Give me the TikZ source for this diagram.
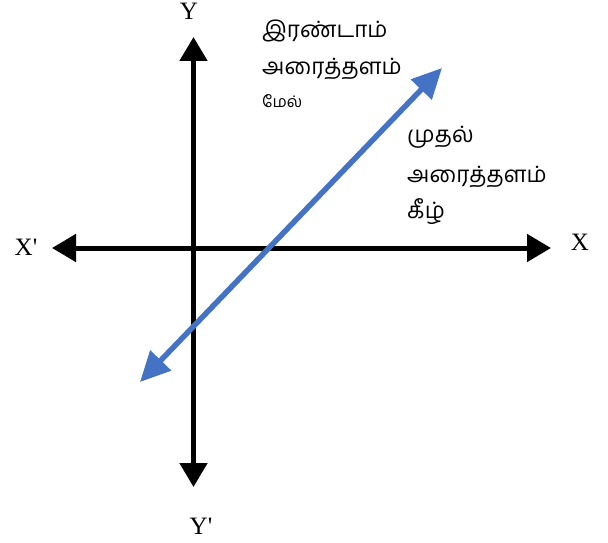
\documentclass[tikz,border=0pt]{standalone}
\usepackage{fontspec}
\setmainfont{Liberation Serif}
\newfontfamily\tamil[Script=Tamil]{Hind Madurai}
\usetikzlibrary{arrows.meta}
\definecolor{axisblue}{HTML}{4472C4}
\begin{document}
\begin{tikzpicture}[x=1pt,y=-1pt,
  axisline/.style={line width=5pt,{Triangle[length=24pt,width=27pt]}-{Triangle[length=24pt,width=27pt]}},
  blueline/.style={line width=5.5pt,draw=axisblue,{Triangle[length=30pt,width=28pt]}-{Triangle[length=30pt,width=28pt]}},
  axlabel/.style={font=\fontsize{25}{27}\selectfont,inner sep=0pt},
  tlabel/.style={font=\tamil\fontsize{22.5}{24}\selectfont,inner sep=0pt,anchor=west},
  tsmall/.style={font=\tamil\fontsize{16}{18}\selectfont,inner sep=0pt,anchor=west}]
\useasboundingbox (0,0) rectangle (608,543);
\coordinate (xl) at (52,248);
\coordinate (xr) at (551,248);
\coordinate (yt) at (193.5,37);
\coordinate (yb) at (193.5,487);
\coordinate (bt) at (442,68);
\coordinate (bb) at (140,382);
\draw[axisline] (xl) -- (xr);
\draw[axisline] (yb) -- (yt);
\draw[blueline] (bb) -- (bt);
\node[axlabel] (lx) at (580,242) {X};
\node[axlabel] (lxp) at (26,247) {X\textquotesingle};
\node[axlabel,anchor=north] (ly) at (189,3) {Y};
\node[axlabel] (lyp) at (201,526) {Y\textquotesingle};
\node[tlabel] (t1) at (262,31) {இரண்டாம்};
\node[tlabel] (t2) at (262,69) {அரைத்தளம்};
\node[tsmall] (t3) at (262,101) {மேல்};
\node[tlabel] (t4) at (407,137) {முதல்};
\node[tlabel] (t5) at (407,177) {அரைத்தளம்};
\node[tlabel] (t6) at (407,212) {கீழ்};
\end{tikzpicture}
\end{document}
